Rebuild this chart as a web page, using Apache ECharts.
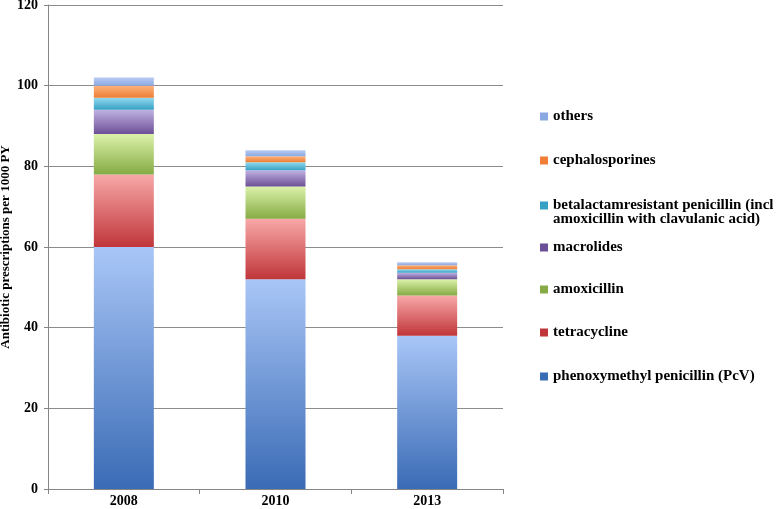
<!DOCTYPE html>
<html>
<head>
<meta charset="utf-8">
<script src="https://cdn.jsdelivr.net/npm/echarts@6/dist/echarts.min.js"></script>
<style>html,body{margin:0;padding:0;background:#fff}#c{width:778px;height:509px}</style>
</head>
<body>
<div id="c"></div>
<script>
var categories = ['2008', '2010', '2013'];
var seriesNames = ['phenoxymethyl penicillin (PcV)', 'tetracycline', 'amoxicillin', 'macrolides',
  'betalactamresistant penicillin (incl', 'cephalosporines', 'others'];
var legendSecondLine = 'amoxicillin with clavulanic acid)';
var pcv = [60, 52, 38];
var tetracycline = [18, 15, 10];
var amoxicillin = [10, 8, 4];
var macrolides = [6, 4, 1.6];
var betalactam = [3, 2, 0.9];
var cephalosporines = [3, 1.5, 1];
var others = [2, 1.5, 0.7];
var values = [pcv, tetracycline, amoxicillin, macrolides, betalactam, cephalosporines, others];
var yTicks = [0, 20, 40, 60, 80, 100, 120];

var colorPairs = [
  ['#a9c6f7', '#3a6bb5'],
  ['#f8a8a8', '#c0363a'],
  ['#dbf2aa', '#86ab44'],
  ['#c0b2e2', '#6c4f95'],
  ['#92d9ee', '#35a0c4'],
  ['#fcb27c', '#ee7e36'],
  ['#b8ccf2', '#8aa8e2']
];
var legendCenters = [376, 332, 289, 247, 205, 160, 116];
var font = 'Liberation Serif';

function grad(p) {
  return new echarts.graphic.LinearGradient(0, 0, 0, 1, [
    {offset: 0, color: p[0]}, {offset: 1, color: p[1]}
  ]);
}

var series = seriesNames.map(function (n, i) {
  return {
    name: n, type: 'bar', stack: 'total', data: values[i],
    barWidth: 60,
    itemStyle: {color: grad(colorPairs[i])},
    emphasis: {disabled: true}
  };
});

var legends = seriesNames.map(function (n, i) {
  return {
    data: [{name: n, itemStyle: {color: colorPairs[i][1]}}],
    left: 535, top: legendCenters[i] - 14,
    orient: 'vertical', itemWidth: 8, itemHeight: 8, itemGap: 0,
    icon: 'rect', selectedMode: false,
    textStyle: {fontFamily: font, fontWeight: 'bold', fontSize: 15, color: '#000', lineHeight: 19}
  };
});

var option = {
  animation: false,
  backgroundColor: '#fff',
  grid: {left: 48, right: 275, top: 5, bottom: 20, containLabel: false, outerBoundsMode: 'none'},
  legend: legends,
  graphic: [{
    type: 'text', left: 553, top: 221 - 9,
    style: {text: legendSecondLine, fontFamily: font, fontWeight: 'bold', fontSize: 15, fill: '#000'}
  }],
  xAxis: {
    type: 'category', data: categories,
    axisLine: {lineStyle: {color: '#868686'}},
    axisTick: {show: true, alignWithLabel: false, length: 5, lineStyle: {color: '#868686'}},
    axisLabel: {fontFamily: font, fontWeight: 'bold', fontSize: 14, color: '#000', margin: 5}
  },
  yAxis: {
    type: 'value', min: 0, max: 120, interval: 20,
    name: 'Antibiotic prescriptions per 1000 PY', nameLocation: 'middle', nameGap: 36,
    nameMoveOverlap: false,
    nameTextStyle: {fontFamily: font, fontWeight: 'bold', fontSize: 13, color: '#000'},
    axisLine: {show: true, lineStyle: {color: '#868686'}},
    axisTick: {show: true, length: 4, lineStyle: {color: '#868686'}},
    axisLabel: {fontFamily: font, fontWeight: 'bold', fontSize: 14, color: '#000', margin: 10,
      formatter: function (v) { return yTicks.indexOf(v) >= 0 ? String(v) : ''; }},
    splitLine: {lineStyle: {color: '#8c8c8c', width: 1}}
  },
  series: series
};
var chart = echarts.init(document.getElementById('c'), null, {renderer: 'canvas'});
chart.setOption(option);
</script>
</body>
</html>
